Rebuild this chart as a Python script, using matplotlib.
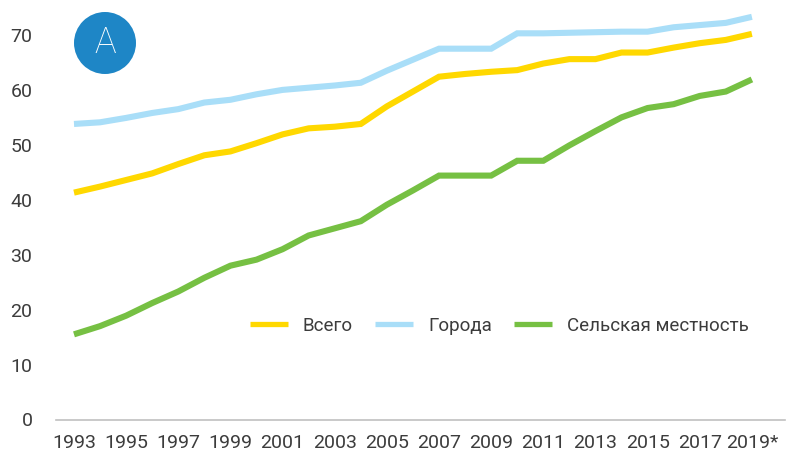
import matplotlib
matplotlib.use("Agg")
import matplotlib.pyplot as plt
from matplotlib.patches import Circle

years = list(range(1993, 2020))
total = [41.3, 42.4, 43.6, 44.8, 46.5, 48.1, 48.8, 50.3, 51.9, 53.0, 53.3, 53.8,
         57.0, 59.7, 62.4, 62.9, 63.3, 63.6, 64.8, 65.6, 65.6, 66.8, 66.8, 67.7,
         68.5, 69.1, 70.2]
urban = [53.8, 54.1, 54.9, 55.8, 56.5, 57.7, 58.2, 59.2, 60.0, 60.4, 60.8, 61.3,
         63.5, 65.5, 67.5, 67.5, 67.5, 70.3, 70.3, 70.4, 70.5, 70.6, 70.6, 71.4,
         71.8, 72.2, 73.3]
rural = [15.5, 17.0, 18.9, 21.2, 23.3, 25.8, 28.0, 29.1, 31.0, 33.5, 34.8, 36.1,
         39.1, 41.7, 44.4, 44.4, 44.4, 47.1, 47.1, 49.9, 52.5, 55.0, 56.7, 57.4,
         58.9, 59.7, 61.9]
series_names = ["Всего", "Города", "Сельская местность"]
tick_years = list(range(1993, 2020, 2))
tick_labels = [str(y) for y in tick_years[:-1]] + ["2019*"]
y_ticks = [0, 10, 20, 30, 40, 50, 60, 70]

plt.rcParams['font.family'] = ['Roboto', 'DejaVu Sans']
text_color = "#3C3C3C"

W, H = 787, 454
fig = plt.figure(figsize=(W / 100, H / 100), dpi=100)
ax = fig.add_axes([56 / W, 34.5 / H, (785 - 56) / W, (419.5 - 2) / H])

colors = ["#FFD800", "#A9DEF8", "#76C043"]
for vals, name, c in zip([total, urban, rural], series_names, colors):
    ax.plot(years, vals, color=c, lw=4.4, label=name, solid_capstyle="butt",
            solid_joinstyle="miter")

ax.set_xlim(1992.31, 2020.27)
ax.set_ylim(0, 76)
ax.set_xticks(tick_years)
ax.set_xticklabels(tick_labels)
ax.set_yticks(y_ticks)
for s in ["top", "right", "left"]:
    ax.spines[s].set_visible(False)
ax.spines["bottom"].set_color("#C0C0C0")
ax.spines["bottom"].set_linewidth(1.2)
ax.tick_params(axis="x", length=0, pad=10.5, labelsize=14, labelcolor=text_color)
ax.tick_params(axis="y", length=0, pad=17, labelsize=14, labelcolor=text_color)

leg = ax.legend(loc="center right", bbox_to_anchor=(758 / W, 1 - 326 / H),
                bbox_transform=fig.transFigure, ncol=3, frameon=False,
                borderpad=0, handlelength=2.0, handletextpad=0.8,
                columnspacing=1.2, fontsize=13.5)
for t in leg.get_texts():
    t.set_color(text_color)
for h in leg.get_lines():
    h.set_linewidth(3.8)

circ = Circle((105 / 100, (H - 43) / 100), 0.31, transform=fig.dpi_scale_trans,
              facecolor="#1E86C6", edgecolor="none")
fig.patches.append(circ)
fig.text(105 / W, 1 - 43 / H, "A", color="white", fontsize=26, fontweight="light",
         ha="center", va="center")

fig.savefig("out.png", dpi=100)
